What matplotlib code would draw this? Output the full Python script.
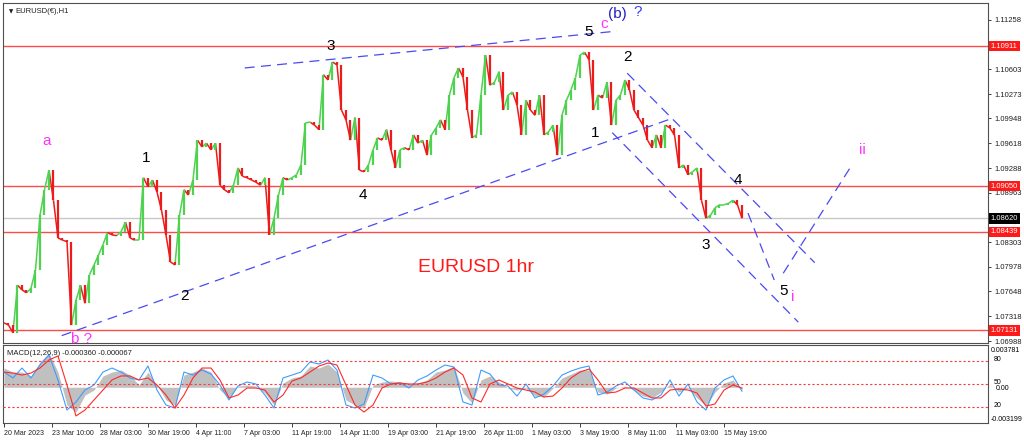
import matplotlib
matplotlib.use('Agg')
import matplotlib.pyplot as plt
from matplotlib.collections import LineCollection

# ---------------- data ----------------
BARS_PER_CLOSE = 6      # one close sample every 6 hourly bars
BARS_PER_MACD = 12      # one MACD sample every 12 hourly bars

closes = [
    1.0723, 1.0720, 1.0710, 1.0773, 1.0767, 1.0763, 1.0769, 1.0793, 1.0866, 1.0900,
    1.0926, 1.0886, 1.0836, 1.0833, 1.0831, 1.0720, 1.0753, 1.0773, 1.0749, 1.0787,
    1.0800, 1.0813, 1.0827, 1.0843, 1.0840, 1.0839, 1.0844, 1.0857, 1.0836, 1.0833,
    1.0833, 1.0916, 1.0904, 1.0913, 1.0897, 1.0873, 1.0840, 1.0804, 1.0800, 1.0866,
    1.0900, 1.0893, 1.0913, 1.0966, 1.0957, 1.0962, 1.0953, 1.0962, 1.0906, 1.0900,
    1.0896, 1.0906, 1.0929, 1.0918, 1.0916, 1.0913, 1.0910, 1.0906, 1.0916, 1.0840,
    1.0862, 1.0893, 1.0916, 1.0913, 1.0916, 1.0920, 1.0933, 1.0989, 1.0990, 1.0986,
    1.0980, 1.1053, 1.1046, 1.1070, 1.1066, 1.1006, 1.0993, 1.0966, 1.0996, 1.0926,
    1.0924, 1.0933, 1.0953, 1.0969, 1.0966, 1.0980, 1.0953, 1.0929, 1.0953, 1.0956,
    1.0953, 1.0973, 1.0962, 1.0966, 1.0946, 1.0973, 1.0982, 1.0993, 1.0980, 1.1026,
    1.1049, 1.1062, 1.1050, 1.1006, 1.0969, 1.0973, 1.1026, 1.1079, 1.1039, 1.1043,
    1.1057, 1.1006, 1.1026, 1.1030, 1.1013, 1.0973, 1.1019, 1.1006, 1.0999, 1.1026,
    1.0973, 1.0977, 1.0986, 1.0946, 1.0999, 1.1019, 1.1033, 1.1049, 1.1079, 1.1083,
    1.1073, 1.1006, 1.1026, 1.1022, 1.1043, 1.0986, 1.1019, 1.1026, 1.1046, 1.1033,
    1.1006, 1.0996, 1.0986, 1.0966, 1.0956, 1.0973, 1.0956, 1.0986, 1.0982, 1.0973,
    1.0929, 1.0933, 1.0920, 1.0924, 1.0929, 1.0886, 1.0862, 1.0866, 1.0876, 1.0880,
    1.0880, 1.0882, 1.0886, 1.0880, 1.0862,
]

# MACD panel values, in units of 1e-4
macd_hist_e4 = [
    17.2, 13.6, 13.6, 10.1, 22.6, 30.6, 13.6, -15.9, -22.2, -7.0,
    -2.5, 10.1, 13.6, 15.4, 10.9, 2.0, 13.6, 2.0, -11.4, -15.9,
    10.9, 13.6, 17.2, 13.6, -2.5, -9.6, 1.1, 2.0, 1.1, -5.2,
    -15.9, 3.8, 8.3, 10.1, 19.0, 17.2, 20.8, 13.6, -11.4, -15.9,
    -18.6, 2.0, 4.7, 5.6, 4.7, 2.9, 3.8, 6.5, 13.6, 15.4,
    19.0, -5.2, -14.1, 6.5, 10.1, 4.7, -0.7, -2.5, -0.7, -7.9,
    -8.7, -0.7, 8.3, 11.8, 15.4, 15.4, -4.3, -6.1, -0.7, 1.1,
    -2.5, -7.9, -9.6, -4.3, 2.9, -4.3, -0.7, -9.6, -16.8, -4.3,
    3.8, 6.5, -2.5,
]
macd_main_e4 = [
    13.6, 8.3, 17.2, 8.3, 19.9, 28.9, 6.5, -20.4, -13.2, -2.5,
    2.0, 13.6, 17.2, 13.6, 8.3, 6.5, 19.0, -2.5, -15.9, -18.6,
    13.6, 10.9, 15.4, 11.8, 2.0, -11.4, 1.1, 4.7, 2.9, -7.0,
    -18.6, 8.3, 10.9, 13.6, 22.6, 20.8, 24.4, 15.4, -15.9, -18.6,
    -15.0, 10.9, 8.3, 2.9, 3.8, -0.7, 6.5, 10.1, 15.4, 19.9,
    18.1, -13.2, -15.9, 15.4, 11.8, 2.0, 1.1, -7.9, 2.9, -9.6,
    -6.1, 1.1, 10.9, 14.5, 17.2, 19.0, -7.0, -4.3, 1.1, 4.7,
    -2.5, -9.6, -11.4, -7.0, 6.5, -7.9, 2.9, -13.2, -20.4, -0.7,
    6.5, 10.1, -3.6,
]
macd_signal_e4 = [
    13.6, 12.7, 10.9, 12.7, 17.2, 24.4, 28.0, 2.0, -25.7, -20.4,
    -11.4, -2.5, 6.5, 10.1, 10.1, 6.5, 8.3, 2.0, -7.0, -18.6,
    -7.0, 8.3, 17.2, 17.2, 6.5, -9.6, -7.0, -0.7, -0.7, -2.5,
    -13.2, -7.0, 5.6, 8.3, 13.6, 19.0, 21.7, 19.9, 2.0, -15.9,
    -22.2, -15.9, -0.7, 2.9, 3.8, 2.9, 2.9, 4.7, 8.3, 13.6,
    17.2, 10.9, -9.6, -13.2, 2.9, 6.5, 2.9, -0.7, -2.5, -4.3,
    -8.7, -7.9, -0.7, 8.3, 13.6, 16.3, 6.5, -5.2, -4.3, -0.7,
    -0.7, -5.2, -9.6, -9.6, -2.5, -1.6, -2.5, -5.2, -16.8, -15.0,
    -2.5, 2.0, -0.7,
]

time_labels = ['20 Mar 2023', '23 Mar 10:00', '28 Mar 03:00', '30 Mar 19:00',
               '4 Apr 11:00', '7 Apr 03:00', '11 Apr 19:00', '14 Apr 11:00',
               '19 Apr 03:00', '21 Apr 19:00', '26 Apr 11:00', '1 May 03:00',
               '3 May 19:00', '8 May 11:00', '11 May 03:00', '15 May 19:00']
BARS_PER_LABEL = 64

price_ticks = [1.11258, 1.10603, 1.10273, 1.09948, 1.09618, 1.09288,
               1.08963, 1.08303, 1.07978, 1.07648, 1.07318, 1.06988]
red_levels = [1.10911, 1.09050, 1.08439, 1.07131]
last_price = 1.08620
stoch_levels = [80, 50, 20]

# trend lines: (bar, price) pairs
trend_lines = [
    ((321, 1.1062), (817, 1.1111)),
    ((77, 1.0706), (891, 1.0995)),
    ((831, 1.1055), (1081, 1.0803)),
    ((811, 1.0976), (1059, 1.0724)),
    ((992, 1.0869), (1027, 1.0780)),
    ((1039, 1.0789), (1128, 1.0929)),
]

# wave labels: text, bar, price, colour
wave_labels = [
    ('a', 57, 1.0965, '#ff33ff'), ('b ?', 104, 1.0702, '#ff33ff'),
    ('1', 189, 1.0942, 'black'), ('2', 241, 1.0759, 'black'),
    ('3', 436, 1.1091, 'black'), ('4', 479, 1.0893, 'black'),
    ('5', 779, 1.1110, 'black'), ('c', 800, 1.1120, '#ff33ff'),
    ('1', 788, 1.0976, 'black'), ('2', 832, 1.1077, 'black'),
    ('3', 935, 1.0827, 'black'), ('4', 979, 1.0913, 'black'),
    ('5', 1039, 1.0765, 'black'), ('i', 1052, 1.0757, '#ff33ff'),
    ('ii', 1144, 1.0953, '#ff33ff'),
]

# ---------------- figure ----------------
W, H = 1024, 441
fig = plt.figure(figsize=(W / 100, H / 100), dpi=100)
fig.patch.set_facecolor('white')
FONT = 'Liberation Sans'

ax = fig.add_axes([3 / W, 1 - 343 / H, 985 / W, 340 / H])
axm = fig.add_axes([3 / W, 1 - 423 / H, 985 / W, 78 / H])

XMIN, XMAX = -1.3, 1312
ax.set_xlim(XMIN, XMAX)
ax.set_ylim(1.06962, 1.11484)
axm.set_xlim(XMIN, XMAX)
axm.set_ylim(-32.0, 37.81)

for a in (ax, axm):
    for s in a.spines.values():
        s.set_color('#505050')
        s.set_linewidth(0.8)

# levels
for lv in red_levels:
    ax.axhline(lv, color='#ff4a4a', lw=1.0, zorder=1)
ax.axhline(last_price, color='#c8c8c8', lw=1.0, zorder=1)

# price path: thin connecting line plus a body from previous close to close
xs = [i * BARS_PER_CLOSE for i in range(len(closes))]
GREEN, RED = '#4fd24f', '#ec1c1c'
segs, cols, bodies = [], [], []
for i in range(1, len(closes)):
    up = closes[i] >= closes[i - 1]
    segs.append([(xs[i - 1], closes[i - 1]), (xs[i], closes[i])])
    cols.append(GREEN if up else RED)
    bodies.append([(xs[i], closes[i - 1]), (xs[i], closes[i])])
ax.add_collection(LineCollection(segs, colors=cols, linewidths=1.1, zorder=3))
ax.add_collection(LineCollection(bodies, colors=cols, linewidths=1.6,
                                 capstyle='butt', zorder=3))

# trend lines
for (x0, y0), (x1, y1) in trend_lines:
    ax.plot([x0, x1], [y0, y1], color='#4a4af2', lw=0.9,
            dashes=(8, 5), zorder=4)

for txt, bx, py, c in wave_labels:
    ax.text(bx, py, txt, color=c, fontsize=11, ha='center', va='center',
            family=FONT, zorder=5)
ax.text(818, 1.1134, '(b)', color='#2020c8', fontsize=11, ha='center',
        va='center', family=FONT, zorder=5)
ax.text(845, 1.1136, '?', color='#3c3cf0', fontsize=11, ha='center',
        va='center', family=FONT, zorder=5)
ax.text(629, 1.0797, 'EURUSD 1hr', color='#ff1a1a', fontsize=14,
        ha='center', va='center', family=FONT, zorder=5)

ax.text(0.006, 0.975, '\u25BC', transform=ax.transAxes, fontsize=4,
        va='center', ha='left', color='#202020')
ax.text(0.013, 0.975, 'EURUSD(\u20ac),H1', transform=ax.transAxes,
        fontsize=5.5, va='center', ha='left', color='#202020', family=FONT)

# price axis
ax.yaxis.tick_right()
ax.set_yticks(price_ticks)
ax.set_yticklabels([f'{p:.5f}' for p in price_ticks])
ax.tick_params(axis='y', length=2.5, width=0.6, pad=2, labelsize=5.5,
               colors='#202020')
for lbl in ax.get_yticklabels():
    lbl.set_family(FONT)
ax.set_xticks([])

ytr = ax.get_yaxis_transform()
for lv in red_levels:
    ax.text(1.003, lv, f'{lv:.5f}', transform=ytr, ha='left', va='center',
            fontsize=5.5, color='white', family=FONT, clip_on=False,
            bbox=dict(boxstyle='square,pad=0.25', fc='#ff1a1a', ec='none'))
ax.text(1.003, last_price, f'{last_price:.5f}', transform=ytr, ha='left',
        va='center', fontsize=5.5, color='white', family=FONT, clip_on=False,
        bbox=dict(boxstyle='square,pad=0.25', fc='black', ec='none'))

# MACD panel
mx = [k * BARS_PER_MACD for k in range(len(macd_hist_e4))]
axm.fill_between(mx, 0, macd_hist_e4, color='#c0c0c0', lw=0, zorder=1)
axm.plot(mx, macd_main_e4, color='#3d9cff', lw=0.8, zorder=3)
axm.plot(mx, macd_signal_e4, color='#ff2a2a', lw=0.8, zorder=4)

axs = axm.twinx()
axs.set_ylim(-0.5, 101.5)
for lv in stoch_levels:
    axs.axhline(lv, color='#ff3a3a', lw=0.8, ls=(0, (2, 2)), zorder=2)
axs.axis('off')

axm.text(0.004, 0.87, 'MACD(12,26,9) -0.000360 -0.000067',
         transform=axm.transAxes, fontsize=5.5, color='#202020', family=FONT)

mtr = axm.get_yaxis_transform()
axm.set_yticks([])
axm.text(1.003, 0.93, '0.003781', transform=axm.transAxes, fontsize=5,
         va='center', family=FONT)
axm.text(1.003, 0.05, '-0.003199', transform=axm.transAxes, fontsize=5,
         va='center', family=FONT)
axm.text(1.008, -1.2, '0.00', transform=mtr, fontsize=5, va='center',
         family=FONT)
str_ = axs.get_yaxis_transform()
for lv in stoch_levels:
    axs.text(1.006, lv + 2.5, str(lv), transform=str_, fontsize=5,
             va='center', family=FONT)

ticks = [k * BARS_PER_LABEL for k in range(len(time_labels))]
axm.set_xticks(ticks)
axm.set_xticklabels(time_labels, ha='left')
axm.tick_params(axis='x', length=3, width=0.6, pad=2, labelsize=5,
                colors='#202020')
for lbl in axm.get_xticklabels():
    lbl.set_family(FONT)

fig.savefig('out.png', dpi=100, facecolor=fig.get_facecolor())
